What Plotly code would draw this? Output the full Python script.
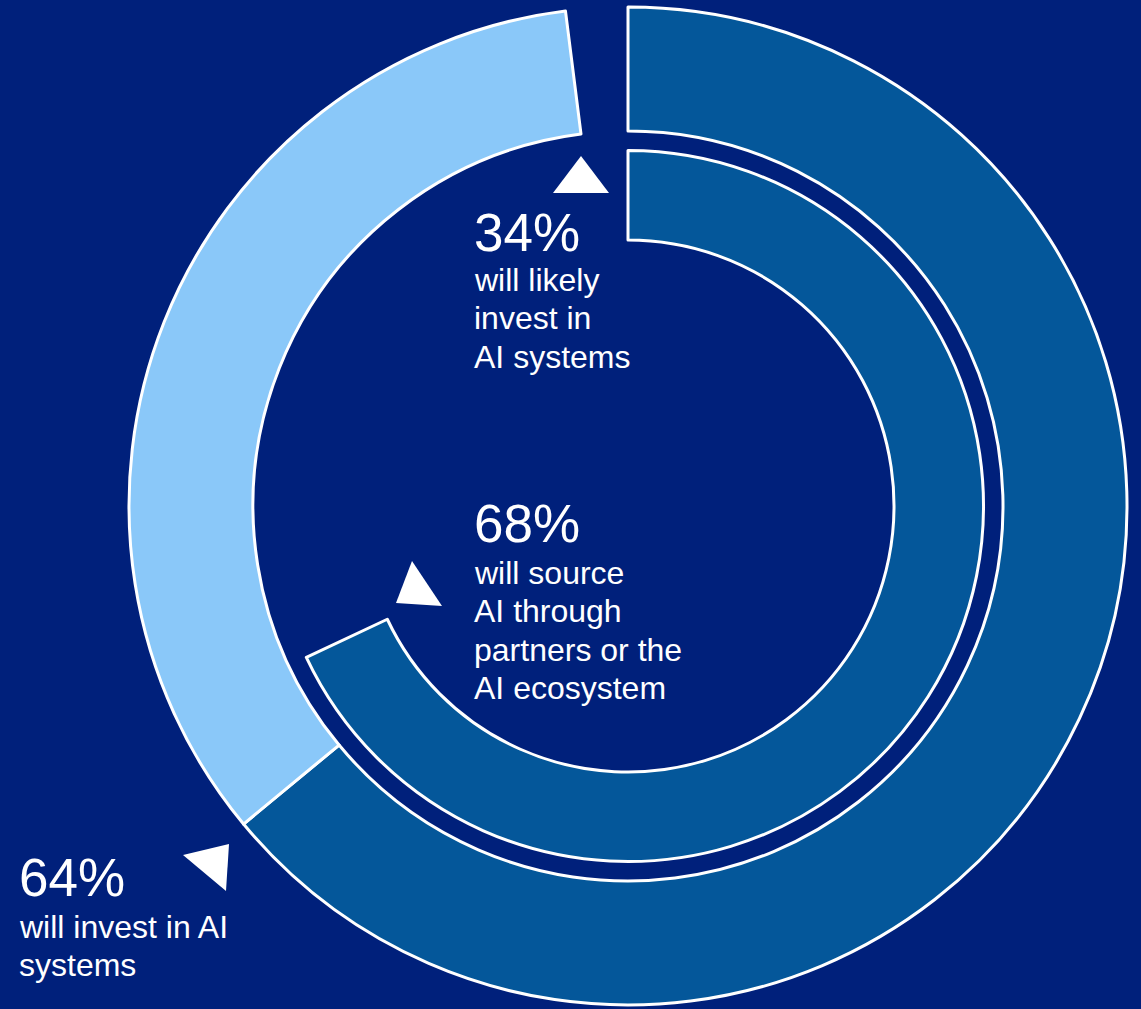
import plotly.graph_objects as go

# Survey shares (percent)
outer_labels = ["Will invest in AI systems", "Will likely invest in AI systems", "gap"]
outer_values = [64, 34, 2]
inner_labels = ["Will source AI through partners or the AI ecosystem", "rest"]
inner_values = [68, 32]

W, H = 1141, 1009
BG = "#00207B"
DARK = "#04579A"
LIGHT = "#8AC8F9"
WHITE = "#FFFFFF"
FONT = "Arial, Liberation Sans, sans-serif"

# ring geometry in pixels (centre measured from the top-left corner)
CX, CY = 628, 506
R_OUT, R_OUT_HOLE = 499, 375
R_IN, R_IN_HOLE = 355.5, 266


def domain(r):
    yc = H - CY
    return dict(x=[(CX - r) / W, (CX + r) / W], y=[(yc - r) / H, (yc + r) / H])


def px(x, y):
    return x / W, (H - y) / H


fig = go.Figure()

fig.add_trace(go.Pie(
    labels=outer_labels, values=outer_values,
    domain=domain(R_OUT), hole=R_OUT_HOLE / R_OUT,
    sort=False, direction="clockwise", rotation=0,
    marker=dict(colors=[DARK, LIGHT, "rgba(0,0,0,0)"],
                line=dict(color=[WHITE, WHITE, "rgba(0,0,0,0)"], width=[3, 3, 0])),
    textinfo="none", hoverinfo="skip", showlegend=False,
))

fig.add_trace(go.Pie(
    labels=inner_labels, values=inner_values,
    domain=domain(R_IN), hole=R_IN_HOLE / R_IN,
    sort=False, direction="clockwise", rotation=0,
    marker=dict(colors=[DARK, "rgba(0,0,0,0)"],
                line=dict(color=[WHITE, "rgba(0,0,0,0)"], width=[3, 0])),
    textinfo="none", hoverinfo="skip", showlegend=False,
))

# pointer triangles
triangles = [
    [(581, 156), (553, 193), (609, 193)],
    [(412, 561), (396, 603), (442, 606)],
    [(183, 855), (229, 844), (226, 891)],
]
shapes = []
for tri in triangles:
    pts = [px(x, y) for x, y in tri]
    path = "M {} {} L {} {} L {} {} Z".format(*[c for p in pts for c in p])
    shapes.append(dict(type="path", xref="paper", yref="paper", path=path,
                       fillcolor=WHITE, line=dict(width=0)))

# callout texts: (big figure, description lines, left x, big y, first line y)
callouts = [
    ("34%", ["will likely", "invest in", "AI systems"], 472, 232, 280),
    ("68%", ["will source", "AI through", "partners or the", "AI ecosystem"], 472, 523, 573),
    ("64%", ["will invest in AI", "systems"], 17, 877, 927),
]
LINE_STEP = 38.3
annotations = []
for big, lines, x, yb, y0 in callouts:
    bx, by = px(x, yb)
    annotations.append(dict(text=big, x=bx, y=by, xref="paper", yref="paper",
                            xanchor="left", yanchor="middle", showarrow=False,
                            font=dict(family=FONT, size=53, color=WHITE)))
    for i, line in enumerate(lines):
        tx, ty = px(x, y0 + i * LINE_STEP)
        annotations.append(dict(text=line, x=tx, y=ty, xref="paper", yref="paper",
                                xanchor="left", yanchor="middle", align="left",
                                showarrow=False,
                                font=dict(family=FONT, size=32, color=WHITE)))

fig.update_layout(
    width=W, height=H,
    margin=dict(l=0, r=0, t=0, b=0),
    paper_bgcolor=BG, plot_bgcolor=BG,
    shapes=shapes, annotations=annotations,
)

fig.write_html("out.html")
